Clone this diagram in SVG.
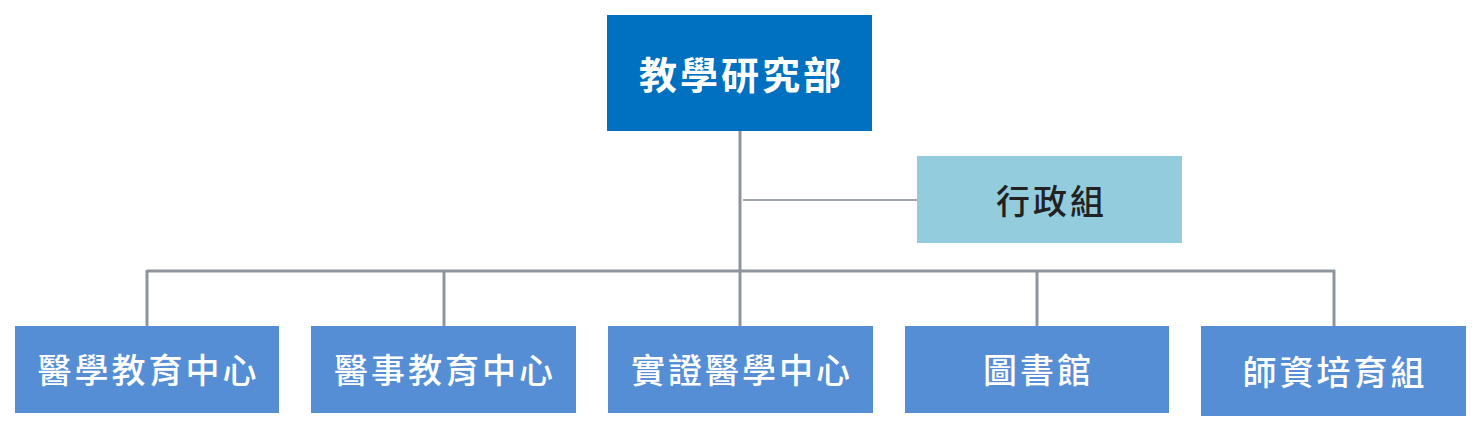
<svg xmlns="http://www.w3.org/2000/svg" width="1482" height="431" viewBox="0 0 1482 431">
<style>
.t{font-family:"Noto Sans CJK TC","Noto Sans CJK SC",sans-serif;text-anchor:middle;dominant-baseline:central}
.top{fill:#0070c0}
.sub{fill:#558ed5}
.adm{fill:#93cddd}
.w{fill:#ffffff}
.big{font-size:38px;font-weight:700;letter-spacing:3px}
.mid{font-size:34px;font-weight:500;letter-spacing:3px}
.bus{stroke:#8e949c;stroke-width:3;fill:none}
.thin{stroke:#7f8893;stroke-width:1.5;fill:none}
</style>
<rect width="1482" height="431" fill="#ffffff"/>
<g id="connectors">
<line class="bus" x1="740" y1="131" x2="740" y2="326"/>
<line class="thin" x1="743" y1="200" x2="917" y2="200"/>
<line class="bus" x1="147" y1="271" x2="1335" y2="271"/>
<line class="bus" x1="147" y1="270" x2="147" y2="326"/>
<line class="bus" x1="444" y1="270" x2="444" y2="326"/>
<line class="bus" x1="1037" y1="270" x2="1037" y2="326"/>
<line class="bus" x1="1334" y1="270" x2="1334" y2="326"/>
</g>
<g id="n-top">
<rect class="top" x="607" y="15" width="265" height="116"/>
<text class="t big w" x="741.5" y="72">教學研究部</text>
</g>
<g id="n-admin">
<rect class="adm" x="917" y="156" width="265" height="87"/>
<text class="t mid" x="1051.5" y="199" fill="#222222">行政組</text>
</g>
<g id="n-med">
<rect class="sub" x="15" y="326" width="264" height="87"/>
<text class="t mid w" x="148.5" y="368">醫學教育中心</text>
</g>
<g id="n-allied">
<rect class="sub" x="311" y="326" width="265" height="87"/>
<text class="t mid w" x="445" y="368">醫事教育中心</text>
</g>
<g id="n-ebm">
<rect class="sub" x="608" y="326" width="265" height="87"/>
<text class="t mid w" x="742" y="368">實證醫學中心</text>
</g>
<g id="n-lib">
<rect class="sub" x="905" y="326" width="264" height="87"/>
<text class="t mid w" x="1038.5" y="368">圖書館</text>
</g>
<g id="n-faculty">
<rect class="sub" x="1201" y="326" width="265" height="90"/>
<text class="t mid w" x="1335" y="370">師資培育組</text>
</g>
</svg>
